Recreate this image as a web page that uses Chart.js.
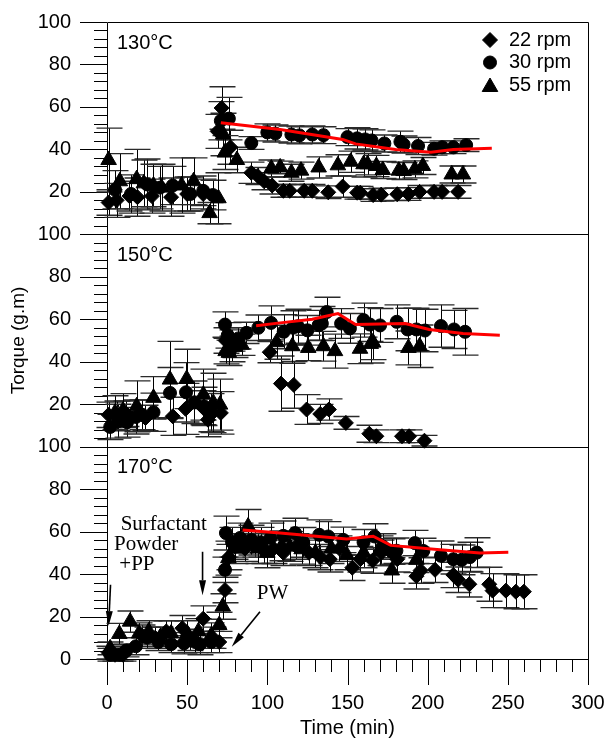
<!DOCTYPE html>
<html>
<head>
<meta charset="utf-8">
<title>Torque vs time</title>
<script src="https://cdn.jsdelivr.net/npm/chart.js"></script>
<style>
  html, body { margin: 0; padding: 0; background: #fff; }
  #wrap { width: 606px; height: 740px; }
</style>
</head>
<body>
<div id="wrap"><canvas id="torqueChart" width="606" height="740"></canvas></div>
<script>
// one panel per barrel temperature, top to bottom
const temps = ['130°C', '150°C', '170°C'];
const speeds = ['22 rpm', '30 rpm', '55 rpm'];
const xTicks = [0, 50, 100, 150, 200, 250, 300];
const yTicks = [0, 20, 40, 60, 80, 100];

// points are [time (min), torque (g.m), +/- error]
const t130_22 = [[1,15,6],[6,16,8],[14,18,7],[19,17.5,9],[28,18,8],[40,17.5,9],[50,19,8],[60,19,7],[69,48.5,8],[71.5,59.5,10],[77,41,8],[90,29,5],[94,27.5,4],[98,25,4],[103,23,4],[110,20.5,3],[114,20.5,3],[123,20.5,3],[128,20.5,3],[138,19.8,3],[147,22.5,5],[156,19.6,3],[158,19.6,3],[166,18.5,3],[171,18.7,3],[181,18.9,3],[188,19,3],[195,20,3],[204,20,3],[209,20,3],[219,20,3]];
const t130_30 = [[5,21,9],[15,19,9],[25,23.5,12],[33,22,10],[41,23,9],[52,19,8],[60,20.5,7],[66,18.5,7],[71,53.5,9],[76,54.5,10],[90,43,3],[100,48,4],[105,47.5,4],[115,47,4],[120,46.6,4],[128,47,4],[135,46.7,4],[150,45.8,4],[156,45.2,5],[161,44.7,5],[165,44.2,5],[173,42.8,4],[183,43.6,5],[185,42.3,4],[194,41.6,4],[204,40.3,3],[209,41,3],[216,41,3],[224,42,3]];
const t130_55 = [[1,35,15],[8,25,13],[18.5,26,14],[23,24,11],[29,23,10],[34,22,11],[46.5,23,13],[54,25,11],[64,10,5],[69.5,17,12],[72.5,47,10],[73.5,38.5,8],[81,35,6],[102.5,31,4],[108,31.5,3],[115,29,4],[121,30,4],[132,31.5,5],[144,32.5,5],[152,34.2,5],[160,33,6],[162.5,33,5],[168,32.2,5],[172,30.3,4],[182,30,4],[185,29.8,4],[192,30.6,4],[197,32.2,4],[215,28.2,4],[222,28.2,4]];

const t150_22 = [[1,15,6],[6,14.5,7],[12,15.5,6],[24,13.5,6],[41,14.3,9],[49,17.8,12],[60,18.3,8],[63,12.7,8],[71,15.9,10],[74,50,6],[78,46,6],[101.5,44.5,5],[108.5,29.7,13],[116.5,29.1,11],[124.5,17.5,7],[133,15.4,4.5],[138.4,17.5,5],[149,11.2,3],[163.6,6.1,4],[168,4.9,3],[184,4.9,3],[188.4,4.9,3],[198,2.8,2.5]];
const t150_30 = [[2,9.3,6],[7,12,8],[12.5,11.5,7],[18,14,8],[22,15,7],[29,16.2,9],[39.3,25.3,12],[49.3,25.6,14],[54.5,20.9,10],[60.5,19,9],[65,16,9],[73.6,57.5,6],[75.3,52.4,6],[78,50,5],[82,51,5],[87,53.6,5],[94.4,56,6],[102.3,58.3,8],[110.2,54.1,8],[116,56,8],[119,56.7,8],[125,54.8,7],[132,57.2,7],[134,58,8],[137,63.4,7],[146,58,7],[151.5,55.7,7],[160,59.6,8],[164,57.5,8],[170.3,57.1,8],[180.7,58.8,8],[187.5,55.2,10],[193,55.2,10],[198.3,54.7,10],[208.3,56.8,10],[216.4,55.2,9],[223.3,54.1,11]];
const t150_55 = [[5,16,8],[10,17,8],[18.5,19,12],[29,23,10],[39.3,31.6,18],[49.7,31.9,14],[60.1,24.5,12],[66.3,20.6,14],[70.5,19.8,12],[74,45,6],[76,44.2,6],[80,47,5],[84,48,5],[105.8,49.2,8],[115.6,47.3,8],[125.5,46.5,6],[135,47.3,7],[142.2,45,8],[157.8,46.1,7],[164.5,48.4,9],[166,49,8],[188,46.5,8],[195,47.3,10]];

const t170_22 = [[1,3,3],[5,2,3],[10,2,3],[22,11,5],[30,10,5],[37,13,5],[47,14.5,6],[52,9,5],[60,19,6],[66,10,5],[70,8,5],[73.6,32.5,6],[76,48,6],[80,53,6],[86,52,6],[92,54,6],[98,51,6],[104,52,7],[110,50,6],[118,53,6],[126,50,6],[133,48,6],[139,47,6],[145,52,6],[153,43,6],[158,47,6],[165.7,46.4,6],[171,50,6],[181,47,6],[193,39,6],[195.6,41.7,6],[204.6,42,6],[216,39.6,6],[219,37.3,6],[226,35.2,6],[238.4,35.2,8],[240.5,32.2,8],[248.8,32.2,8],[255,31.7,8],[260,31.7,8]];
const t170_30 = [[2,2,3],[8,2,3],[12,4,3],[18,6,4],[25,10,5],[32,8,4],[40,7,4],[48,7.4,5],[55,8,5],[58,7,5],[65,8,5],[73.6,42,6],[74.2,59.3,8],[78,55,7],[83,57,7],[90,56,7],[96,55,7],[102,57,7],[110,58,7],[117.3,59.3,7],[122.4,54.9,7],[132.4,58.5,7],[138,57.7,7],[147.4,56.1,6],[160,55,6],[166.9,57.7,6],[172,53,6],[177.6,50.6,6],[180.5,51,6],[192,54.6,6],[197.3,50.9,6],[208.3,48.6,7],[216,47,7],[221.2,46.7,7],[226.4,48,7],[230.6,50.1,7]];
const t170_55 = [[2,5,3],[7.7,11.8,5],[14.4,17.6,5],[20,12,5],[26,13,5],[33,10,5],[40,12,6],[50,12,6],[57,13,6],[65,11,6],[70,16,6],[72.2,24.7,6],[75.7,47.5,8],[80,52,7],[88,62.4,8],[94,52,7],[100,50,7],[109,53.3,7],[114,53,7],[121.4,51.7,7],[130,50,7],[140,52,7],[149.5,49,7],[160,50,7],[170,51,7],[177.6,41.7,6],[193,46.7,6]];

// fitted curves (red)
const fit130 = [[71,52.5],[108,49.4],[147,44.7],[155,42.6],[180,40],[202,38.7],[216,40],[240,40.5]];
const fit150 = [[93,57],[108,58.3],[128,60],[144,62.7],[155,57.5],[170,57.8],[186,58],[201,55.2],[222,53.3],[245,52.5]];
const fit170 = [[84.6,60.8],[108,59.3],[149.5,56.5],[166,57.8],[177,53.5],[207.7,51.4],[232.6,49.9],[250.3,50.3]];

const panels = [
  { axis: 'y130', series: [t130_22, t130_30, t130_55], fit: fit130 },
  { axis: 'y150', series: [t150_22, t150_30, t150_55], fit: fit150 },
  { axis: 'y170', series: [t170_22, t170_30, t170_55], fit: fit170 }
];
const markers = ['rectRot', 'circle', 'triangle'];
const markerSize = [7.5, 6.5, 9];

const SANS = '"Liberation Sans", Arial, Helvetica, sans-serif';
const SERIF = '"Liberation Serif", "Times New Roman", serif';

const datasets = [];
panels.forEach(p => {
  datasets.push({
    type: 'line',
    label: 'fit ' + p.axis,
    data: p.fit.map(d => ({ x: d[0], y: d[1] })),
    yAxisID: p.axis,
    borderColor: '#ff0000',
    borderWidth: 3,
    pointRadius: 0,
    tension: 0,
    fill: false,
    order: 0
  });
  p.series.forEach((s, i) => {
    datasets.push({
      type: 'scatter',
      label: speeds[i],
      data: s.map(d => ({ x: d[0], y: d[1], e: d[2] })),
      yAxisID: p.axis,
      pointStyle: markers[i],
      pointRadius: markerSize[i],
      backgroundColor: '#000',
      borderColor: '#000',
      borderWidth: 1,
      clip: false,
      errorBars: true,
      order: 1
    });
  });
});

// tick padding is only meant to push labels away from the axis,
// so drop the extra space chart.js reserves for it around the plot
function yScale(showZero) {
  return {
    type: 'linear',
    position: 'left',
    stack: 'torque',
    stackWeight: 1,
    min: 0,
    max: 100,
    grid: { display: false, drawTicks: false },
    border: { display: false },
    ticks: {
      stepSize: 20,
      autoSkip: false,
      padding: 36,
      color: '#000',
      font: { family: SANS, size: 20 },
      callback: v => (v === 0 && !showZero) ? '' : (yTicks.includes(v) ? String(v) : '')
    },
    afterFit: s => { s.width = 107; s.paddingTop = 0; s.paddingBottom = 0; }
  };
}

const scaleY150 = yScale(false);
scaleY150.title = {
  display: true,
  text: 'Torque (g.m)',
  color: '#000',
  font: { family: SANS, size: 19 },
  padding: { top: 7, bottom: 0 }
};

function drawMarker(ctx, style, x, y, r) {
  ctx.beginPath();
  if (style === 'circle') {
    ctx.arc(x, y, r, 0, Math.PI * 2);
  } else if (style === 'rectRot') {
    ctx.moveTo(x - r, y); ctx.lineTo(x, y - r); ctx.lineTo(x + r, y); ctx.lineTo(x, y + r);
    ctx.closePath();
  } else {
    const a = Math.PI * 2 / 3;
    ctx.moveTo(x, y - r);
    ctx.lineTo(x + Math.sin(a) * r, y - Math.cos(a) * r);
    ctx.lineTo(x + Math.sin(2 * a) * r, y - Math.cos(2 * a) * r);
    ctx.closePath();
  }
  ctx.fill();
  ctx.stroke();
}

function arrow(ctx, x1, y1, x2, y2) {
  const ang = Math.atan2(y2 - y1, x2 - x1);
  const head = 15, half = 3.5;
  const bx = x2 - Math.cos(ang) * head, by = y2 - Math.sin(ang) * head;
  ctx.beginPath();
  ctx.moveTo(x1, y1);
  ctx.lineTo(bx, by);
  ctx.stroke();
  ctx.beginPath();
  ctx.moveTo(x2, y2);
  ctx.lineTo(bx - Math.sin(ang) * half, by + Math.cos(ang) * half);
  ctx.lineTo(bx + Math.sin(ang) * half, by - Math.cos(ang) * half);
  ctx.closePath();
  ctx.fill();
}

// frame, separators, minor/major ticks and error bars
const framePlugin = {
  id: 'panelFrame',
  beforeDatasetsDraw(chart) {
    const { ctx, chartArea: a, scales } = chart;
    const px = v => Math.round(v) + 0.5;
    ctx.save();
    ctx.strokeStyle = '#000';
    ctx.lineWidth = 1;
    ctx.beginPath();
    ctx.rect(px(a.left), px(a.top), Math.round(a.right - a.left), Math.round(a.bottom - a.top));
    panels.forEach(p => {
      const s = scales[p.axis];
      ctx.moveTo(a.left, px(s.bottom));
      ctx.lineTo(a.right, px(s.bottom));
      for (let v = 0; v <= 100; v += 4) {
        const y = px(s.getPixelForValue(v));
        const len = v % 20 === 0 ? 27 : 13;
        ctx.moveTo(a.left - len, y);
        ctx.lineTo(a.left, y);
      }
    });
    const xs = scales.x;
    for (let t = 0; t <= 300; t += 10) {
      const x = px(xs.getPixelForValue(t));
      const len = t % 50 === 0 ? 26 : 13;
      ctx.moveTo(x, a.bottom);
      ctx.lineTo(x, a.bottom + len);
    }
    ctx.stroke();
    chart.data.datasets.forEach(ds => {
      if (!ds.errorBars) return;
      const ys = scales[ds.yAxisID];
      ds.data.forEach(d => {
        const x = px(xs.getPixelForValue(d.x));
        const yTop = ys.getPixelForValue(d.y + d.e);
        const yBot = ys.getPixelForValue(d.y - d.e);
        ctx.strokeStyle = '#000';
        ctx.lineWidth = 1;
        ctx.beginPath();
        ctx.moveTo(x, yTop);
        ctx.lineTo(x, yBot);
        ctx.stroke();
        // caps
        ctx.strokeStyle = '#2a2a2a';
        ctx.lineWidth = 1.4;
        ctx.beginPath();
        ctx.moveTo(x - 13, yTop); ctx.lineTo(x + 13, yTop);
        ctx.moveTo(x - 13, yBot); ctx.lineTo(x + 13, yBot);
        ctx.stroke();
      });
    });
    ctx.restore();
  },
  afterDraw(chart) {
    const { ctx, chartArea: a, scales } = chart;
    const xs = scales.x;
    ctx.save();
    ctx.fillStyle = '#000';
    ctx.strokeStyle = '#000';
    ctx.textBaseline = 'middle';

    // temperature labels
    ctx.font = '20px ' + SANS;
    ctx.textAlign = 'left';
    panels.forEach((p, i) => {
      ctx.fillText(temps[i], a.left + 10, scales[p.axis].top + 21);
    });

    // legend
    const s = scales.y130;
    speeds.forEach((label, i) => {
      const y = s.top + 18 + i * 22.5;
      ctx.lineWidth = 1;
      drawMarker(ctx, markers[i], 490, y + (i === 2 ? 2 : 0), markerSize[i]);
      ctx.fillText(label, 509, y);
    });

    // process annotations, bottom panel
    const yb = scales.y170;
    const X = t => xs.getPixelForValue(t);
    const Y = v => yb.getPixelForValue(v);
    ctx.font = '21px ' + SERIF;
    ctx.fillText('Surfactant', X(8.5), Y(63.2));
    ctx.fillText('Powder', X(4.4), Y(53.8));
    ctx.fillText('+PP', X(7.7), Y(44.3));
    ctx.fillText('PW', X(93.4), Y(31));
    ctx.lineWidth = 1.6;
    arrow(ctx, X(2.2), Y(35), X(1), Y(15.5));
    arrow(ctx, X(59.6), Y(50.5), X(59.6), Y(30));
    arrow(ctx, X(95.4), Y(22.3), X(77.8), Y(5.8));
    ctx.restore();
  }
};

Chart.defaults.font.family = SANS;
Chart.defaults.color = '#000';

new Chart(document.getElementById('torqueChart'), {
  data: { datasets },
  options: {
    responsive: false,
    animation: false,
    devicePixelRatio: 1,
    layout: { padding: { top: 22, right: 18, bottom: 0, left: 0 } },
    plugins: { legend: { display: false }, tooltip: { enabled: false } },
    scales: {
      x: {
        type: 'linear',
        position: 'bottom',
        min: 0,
        max: 300,
        grid: { display: false, drawTicks: false },
        border: { display: false },
        ticks: {
          stepSize: 50,
          autoSkip: false,
          maxRotation: 0,
          padding: 32,
          color: '#000',
          font: { family: SANS, size: 20 },
          callback: v => xTicks.includes(v) ? String(v) : ''
        },
        title: {
          display: true,
          text: 'Time (min)',
          color: '#000',
          font: { family: SANS, size: 20 },
          padding: { top: 0, bottom: 0 }
        },
        afterFit: s => { s.height = 81; s.paddingLeft = 0; s.paddingRight = 0; }
      },
      y170: yScale(true),
      y150: scaleY150,
      y130: yScale(false)
    }
  },
  plugins: [framePlugin]
});
</script>
</body>
</html>
